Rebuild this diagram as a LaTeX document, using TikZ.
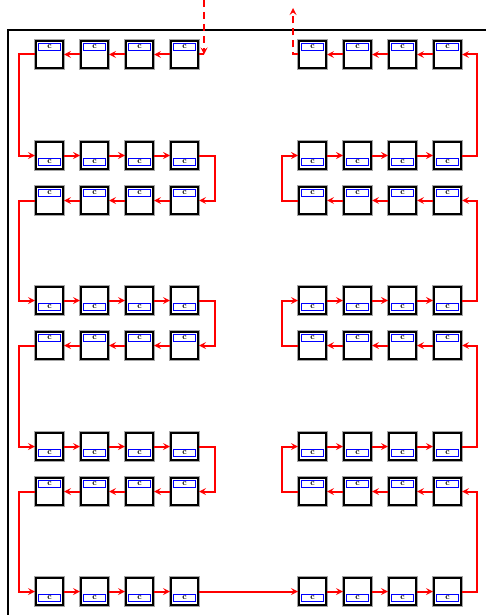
\documentclass[tikz,border=0pt]{standalone}
\usetikzlibrary{arrows}

\begin{document}
\begin{tikzpicture}[x=1pt, y=-1pt]
\tikzstyle{cell} = [rectangle, minimum width=27pt, minimum height=27pt, line width=2pt, draw=black, fill=white, preaction={draw=black!35, line width=3.4pt}]
\tikzstyle{tag} = [rectangle, minimum width=22.3pt, minimum height=7.3pt, inner sep=0pt, line width=1pt, draw=blue, fill=white, font=\fontsize{8.5}{8.5}\selectfont\bfseries]
\tikzstyle{arrow} = [red, line width=2pt, ->, >=stealth]
\tikzstyle{wire} = [red, line width=2pt]
\tikzstyle{scan} = [red, line width=2pt, dash pattern=on 7pt off 5pt, >=stealth]
\tikzstyle{frame} = [black, line width=1.8pt]
\useasboundingbox (0,0) rectangle (485,615);

% Frame
\draw[frame] (8,640) -- (8,29.7) -- (500,29.7);

% Cells
\foreach \r/\y/\ty in {1/54.5/47, 2/155.5/162, 3/200.5/193, 4/300.5/307,
                       5/345.5/338, 6/446.5/453, 7/491.5/484, 8/591.5/598} {
  \foreach \c/\x in {1/49.5, 2/94.5, 3/139.5, 4/184.5} {
    \node (L\r\c) [cell] at (\x,\y) {};
    \node (L\r\c tag) [tag] at (\x,\ty) {c};
  }
  \foreach \c/\x in {1/312.5, 2/357.5, 3/402.5, 4/447.5} {
    \node (R\r\c) [cell] at (\x,\y) {};
    \node (R\r\c tag) [tag] at (\x,\ty) {c};
  }
}

% Scan in / scan out
\coordinate (scanin) at (204,0);
\coordinate (scanturn) at (204,54.5);
\coordinate (scanout) at (293,8);
\draw[scan, ->] (scanin) -- (scanturn);
\draw[wire] (scanturn) -- (L14);
\draw[scan, ->] (R11) -| (scanout);

% Arrows along the rows
\foreach \c/\n in {1/2, 2/3, 3/4} {
  \foreach \r in {1,3,5,7} {
    \draw[arrow] (L\r\n) -- (L\r\c);
    \draw[arrow] (R\r\n) -- (R\r\c);
  }
  \foreach \r in {2,4,6,8} {
    \draw[arrow] (L\r\c) -- (L\r\n);
    \draw[arrow] (R\r\c) -- (R\r\n);
  }
}

% Arrows between the rows
\foreach \a/\b in {1/2, 3/4, 5/6, 7/8}
  \draw[arrow] (L\a1.west) -- ++(-16,0) |- (L\b1.west);
\foreach \a/\b in {2/3, 4/5, 6/7}
  \draw[arrow] (L\a4.east) -- ++(16,0) |- (L\b4.east);
\draw[arrow] (L84) -- (R81);
\foreach \a/\b in {8/7, 6/5, 4/3, 2/1}
  \draw[arrow] (R\a4.east) -- ++(15,0) |- (R\b4.east);
\foreach \a/\b in {7/6, 5/4, 3/2}
  \draw[arrow] (R\a1.west) -- ++(-16,0) |- (R\b1.west);

\end{tikzpicture}
\end{document}
